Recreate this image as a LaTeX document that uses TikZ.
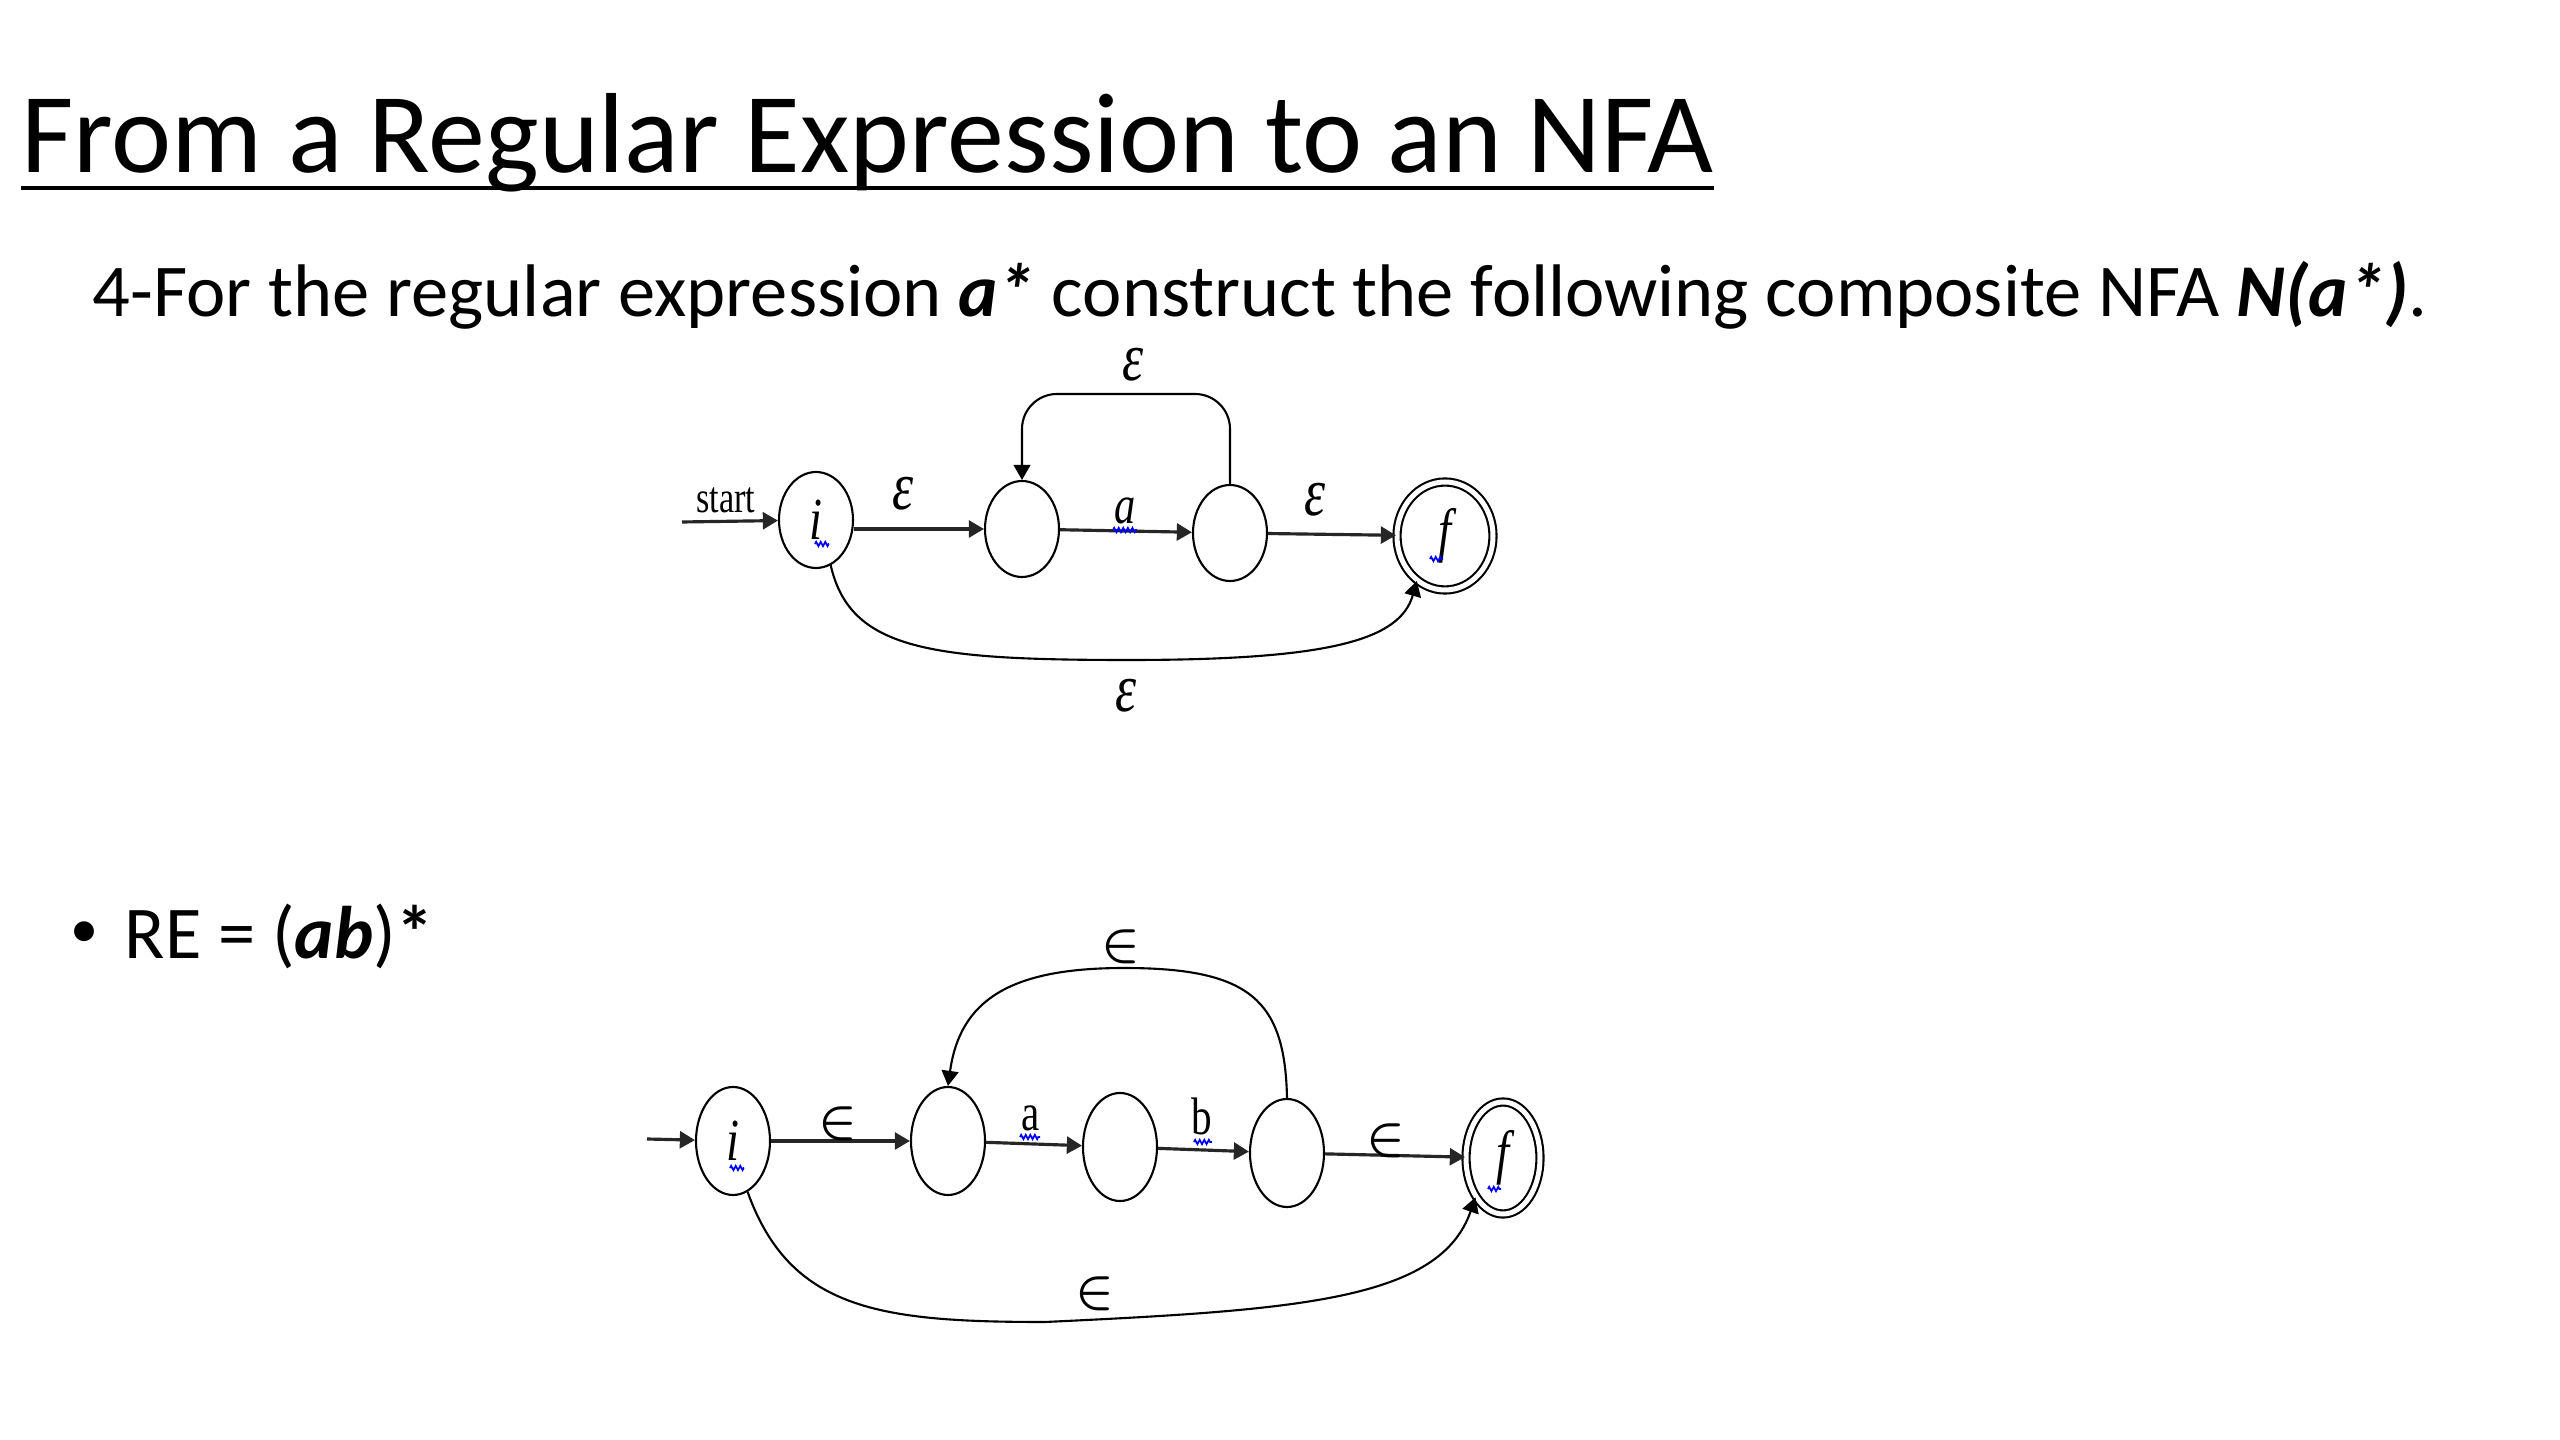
\documentclass[tikz,border=0pt]{standalone}
\usepackage{fontspec}
\setmainfont{Carlito}
\newfontfamily\nfa[FakeStretch=0.78]{Liberation Serif}
\usetikzlibrary{arrows.meta,shapes.geometric,decorations.pathmorphing}

\tikzset{
	state/.style={draw,ellipse,line width=0.6pt,inner sep=0pt,minimum width=7.4mm,minimum height=9.6mm,font=\nfa\itshape\fontsize{17}{17}\selectfont},
	stateb/.style={state,minimum height=10.8mm},
	accept/.style={state,double,double distance=0.5mm,minimum width=9.6mm,minimum height=10.8mm},
	edge/.style={line width=0.9pt,black!85,-{Triangle[length=4.3pt,width=4.8pt]}},
	arc/.style={line width=0.6pt,black,-{Triangle[length=4.3pt,width=4.8pt]}},
	eps/.style={inner sep=0pt,font=\nfa\itshape\fontsize{19.5}{19.5}\selectfont},
	sym/.style={inner sep=0pt,font=\nfa\fontsize{15}{15}\selectfont},
	elem/.style={inner sep=0pt,font=\boldmath\fontsize{13.5}{13.5}\selectfont},
	squig/.style={draw=blue,line width=0.5pt,decorate,decoration={zigzag,segment length=1.3pt,amplitude=0.6pt}},
	slide/.style={anchor=base west,inner sep=0pt,font=\fontsize{21.2}{21.2}\selectfont}
}

\begin{document}
\begin{tikzpicture}[x=0.1mm,y=-0.1mm]
	\fill[white] (0,0) rectangle (2560,1440);
	\useasboundingbox (0,0) rectangle (2560,1440);
	
	%TEXT
	\node[anchor=base west,inner sep=0pt,font=\fontsize{32.4}{32.4}\selectfont] (ttl) at (21,173) {From a Regular Expression to an NFA};
	\draw[line width=1.4pt] ([yshift=-1.5mm]ttl.base west)--([yshift=-1.5mm]ttl.base east);
	\node[slide] (sub) at (92,317) {4-For the regular expression \textbf{\textit{a*}} construct the following composite NFA \textbf{\textit{N(a*)}}.};
	\node[inner sep=0pt,font=\fontsize{16}{16}\selectfont] (bul) at (85,935) {•};
	\node[slide] (re) at (124,959) {RE = (\textbf{\textit{ab}})\textbf{*}};
	
	%N(a*)
	\node[state] (i1) at (816,520) {i};
	\node[state] (q1) at (1022,529) {};
	\node[state] (q2) at (1230,533) {};
	\node[accept] (f1) at (1445,536) {f};
	\coordinate (st1) at (682,522);
	\coordinate (top1) at (1126,394);
	\node[inner sep=0pt,font=\nfa\fontsize{12.5}{12.5}\selectfont] (start) at (726,500) {start};
	
	\draw[edge] (st1)--(i1);
	\draw[edge] (i1.east |- q1)--(q1);
	\draw[edge] (q1)--(q2);
	\draw[edge] (q2)--(f1);
	\draw[arc,rounded corners=3.5mm] (q2.north) |- (top1) -| (q1.north);
	\draw[arc] (i1.-72) .. controls (850,650) and (930,660) .. (1129,660) .. controls (1330,660) and (1400,640) .. (f1.-122);
	
	\node[eps] (e1) at (903,494) {ε};
	\node[sym,font=\nfa\itshape\fontsize{15.5}{15.5}\selectfont] (a1) at (1125,511) {a};
	\node[eps] (e2) at (1315,500) {ε};
	\node[eps] (e3) at (1133,365) {ε};
	\node[eps] (e4) at (1126,696) {ε};
	
	\draw[squig] (815,544)--(829,544);
	\draw[squig] (1113,530)--(1137,530);
	\draw[squig] (1430,559)--(1443,559);
	
	%(ab)*
	\node[stateb] (i2) at (733,1141) {i};
	\node[stateb] (p1) at (948,1141) {};
	\node[stateb] (p2) at (1120,1147) {};
	\node[stateb] (p3) at (1287,1153) {};
	\node[accept,minimum width=7.4mm,minimum height=11.2mm] (f2) at (1503,1158) {f};
	\coordinate (st2) at (647,1139);
	
	\draw[edge] (st2)--(i2);
	\draw[edge] (i2)--(p1);
	\draw[edge] (p1)--(p2);
	\draw[edge] (p2)--(p3);
	\draw[edge] (p3)--(f2);
	\draw[arc] (p3.north) .. controls (1285,1000) and (1250,968) .. (1124,968) .. controls (1010,968) and (960,1000) .. (p1.north);
	\draw[arc] (i2.-74) .. controls (790,1310) and (880,1322) .. (1045,1322) .. controls (1300,1310) and (1440,1300) .. (f2.-125);
	
	\node[elem] (n1) at (838,1124) {$\in$};
	\node[sym] (a2) at (1031,1118) {a};
	\node[sym] (b2) at (1202,1116) {b};
	\node[elem] (n2) at (1386,1141) {$\in$};
	\node[elem] (n3) at (1121,947) {$\in$};
	\node[elem] (n4) at (1095,1294) {$\in$};
	
	\draw[squig] (730,1168)--(744,1168);
	\draw[squig] (1020,1137)--(1040,1137);
	\draw[squig] (1194,1142)--(1212,1142);
	\draw[squig] (1488,1189)--(1501,1189);
\end{tikzpicture}
\end{document}
